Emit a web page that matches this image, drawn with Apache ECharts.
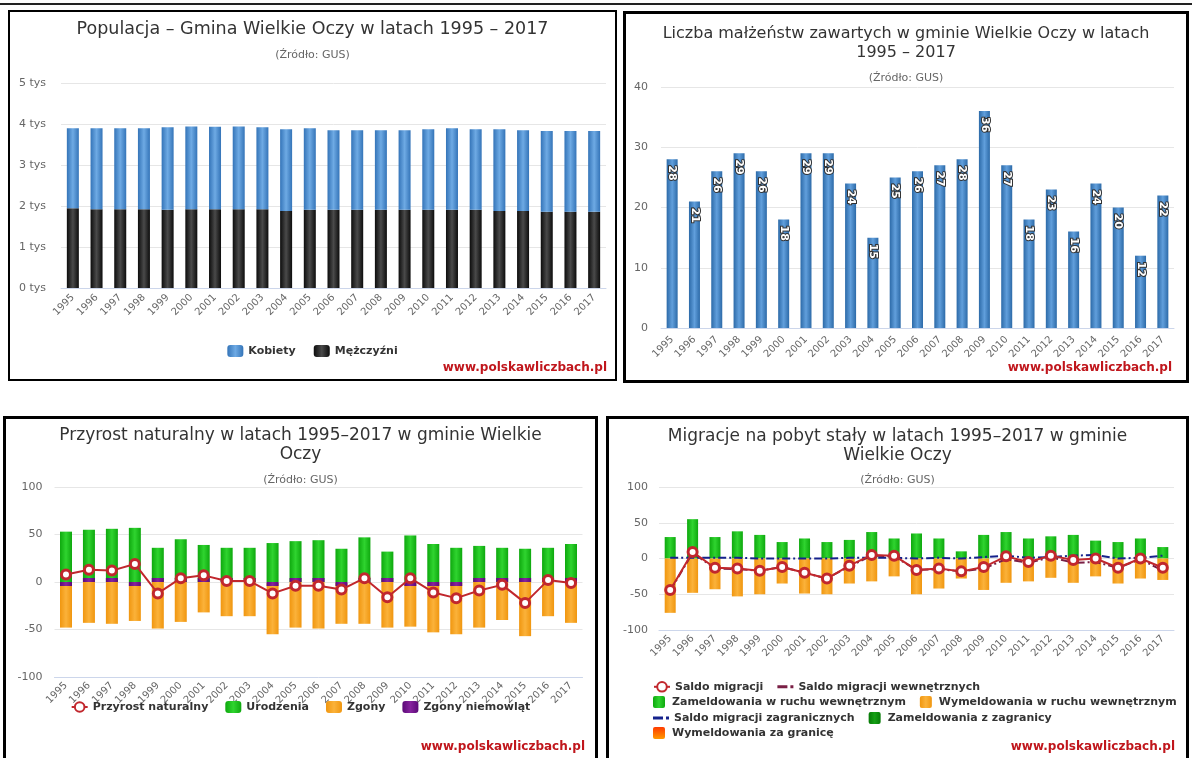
<!DOCTYPE html>
<html>
<head>
<meta charset="utf-8">
<script src="https://cdn.jsdelivr.net/npm/echarts@6/dist/echarts.min.js"></script>
<style>
body{margin:0;background:#fff;width:1192px;height:758px;overflow:hidden;position:relative;}
.chart{position:absolute;}
.frame{position:absolute;border:3px solid #000;box-sizing:border-box;pointer-events:none;}
</style>
</head>
<body>
<div style="position:absolute;left:0;top:3px;width:1192px;height:2px;background:#222"></div>
<div id="pop" class="chart" style="left:8px;top:10px;width:609px;height:371px"></div>
<div class="frame" style="left:8px;top:10px;width:609px;height:371px;border-width:2px"></div>
<div id="mar" class="chart" style="left:623px;top:11px;width:566px;height:372px"></div>
<div class="frame" style="left:623px;top:11px;width:566px;height:372px"></div>
<div id="nat" class="chart" style="left:3px;top:416px;width:595px;height:360px"></div>
<div class="frame" style="left:3px;top:416px;width:595px;height:360px"></div>
<div id="mig" class="chart" style="left:606px;top:416px;width:583px;height:360px"></div>
<div class="frame" style="left:606px;top:416px;width:583px;height:360px"></div>
<script>
var years = ['1995','1996','1997','1998','1999','2000','2001','2002','2003','2004','2005','2006',
  '2007','2008','2009','2010','2011','2012','2013','2014','2015','2016','2017'];

// populacja
var kobiety = [1948,1972,1972,1972,2013,2017,2012,2017,1997,1990,1988,1943,1943,1943,1943,1963,1988,1963,1990,1970,1972,1972,1972];
var mezczyzni = [1947,1923,1923,1923,1907,1923,1923,1923,1923,1880,1907,1907,1907,1907,1907,1907,1907,1907,1880,1880,1858,1858,1858];

// małżeństwa
var malzenstwa = [28,21,26,29,26,18,29,29,24,15,25,26,27,28,36,27,18,23,16,24,20,12,22];

// przyrost naturalny
var urodzenia = [53,55,56,57,36,45,39,36,36,41,43,44,35,47,32,49,40,36,38,36,35,36,40];
var zgony = [-47,-43,-44,-40,-49,-42,-32,-36,-36,-54,-48,-49,-43,-44,-48,-46,-52,-54,-48,-40,-57,-36,-43];
var zgonyNiemowlat = [-1,0,0,-1,0,0,0,0,0,-1,0,0,-1,0,0,-1,-1,-1,0,0,0,0,0];
var przyrost = [8,13,12,19,-12,4,7,1,1,-12,-4,-4,-8,4,-16,4,-11,-17,-9,-3,-22,2,-1];

// migracje
var zamWewn = [30,55,30,38,33,23,28,23,26,37,28,35,28,10,33,37,28,31,33,25,23,28,16];
var wymWewn = [-76,-48,-43,-53,-50,-35,-49,-50,-35,-32,-25,-50,-42,-28,-44,-34,-32,-27,-34,-25,-35,-28,-30];
var zamZagr = [0,0,0,0,0,0,0,0,0,0,0,0,0,0,0,0,0,0,0,0,0,0,0];
var wymZagr = [0,0,0,0,0,0,0,0,0,0,0,0,0,0,0,0,0,0,0,0,0,0,0];
var saldo = [-44,9,-13,-14,-17,-12,-20,-28,-10,5,4,-16,-14,-18,-12,3,-5,4,-2,0,-13,0,-13];
var saldoWewn = [-45,8,-14,-15,-17,-12,-20,-28,-11,4,3,-16,-15,-18,-14,-1,-6,2,-6,-5,-13,-1,-17];
var saldoZagr = [1,1,1,1,0,0,0,0,1,1,1,0,1,0,2,4,1,2,4,5,0,1,4];

var FONT = '"DejaVu Sans", Verdana, sans-serif';
var SQ = 'path://M2,0h8a2,2 0 0 1 2,2v8a2,2 0 0 1 -2,2h-8a2,2 0 0 1 -2,-2v-8a2,2 0 0 1 2,-2z';
var DASHDOT = 'path://M0,0h10v3h-10z M13,0h3v3h-3z';

function hGrad(edge, mid) {
  return new echarts.graphic.LinearGradient(0, 0, 1, 0, [
    {offset: 0, color: edge}, {offset: 0.5, color: mid}, {offset: 1, color: edge}]);
}

function titles(text, size, top, sub, subTop) {
  return [
    {text: text, left: 'center', top: top,
     textStyle: {fontFamily: FONT, fontSize: size, fontWeight: 'normal', color: '#333', lineHeight: 19}},
    {text: sub, left: 'center', top: subTop,
     textStyle: {fontFamily: FONT, fontSize: 11, fontWeight: 'normal', color: '#666'}}
  ];
}

function xAxis(onZero, margin) {
  return {
    type: 'category', data: years,
    axisLine: {onZero: onZero, lineStyle: {color: '#ccd6eb'}},
    axisTick: {length: 8, lineStyle: {color: '#ccd6eb'}},
    axisLabel: {rotate: 45, color: '#666', fontSize: 10, fontFamily: FONT, margin: margin}
  };
}

function yAxis(min, max, step, margin, fmt) {
  return {
    type: 'value', min: min, max: max, interval: step,
    axisLine: {show: false}, axisTick: {show: false},
    axisLabel: {color: '#666', fontSize: 11, fontFamily: FONT, margin: margin, formatter: fmt},
    splitLine: {lineStyle: {color: '#e6e6e6'}}
  };
}

function mark(right, top) {
  return [{type: 'text', right: right, top: top,
    style: {text: 'www.polskawliczbach.pl', fill: '#c0161c', font: 'bold 12px ' + FONT}}];
}

var legendText = {fontFamily: FONT, fontSize: 11, fontWeight: 'bold', color: '#333'};

var ringLine = {
  type: 'line', symbol: 'circle', symbolSize: 9, z: 5,
  lineStyle: {color: '#c1272d', width: 2},
  itemStyle: {color: '#fff', borderColor: '#c1272d', borderWidth: 3}
};

// --- populacja
echarts.init(document.getElementById('pop')).setOption({
  animation: false,
  title: titles('Populacja – Gmina Wielkie Oczy w latach 1995 – 2017', 17.5, 5, '(Źródło: GUS)', 35),
  grid: {left: 53, right: 11, top: 73, bottom: 93},
  xAxis: xAxis(true, 8),
  yAxis: yAxis(0, 5000, 1000, 15, function (v) { return (v / 1000) + ' tys'; }),
  legend: {data: ['Kobiety', 'Mężczyźni'], top: 330, left: 'center', itemWidth: 16, itemHeight: 12,
    itemGap: 18, icon: 'roundRect', textStyle: legendText},
  graphic: mark(10, 352),
  series: [
    {name: 'Mężczyźni', type: 'bar', stack: 'p', barWidth: 12, data: mezczyzni,
     itemStyle: {color: hGrad('#0c0c0c', '#4a4a4a')}},
    {name: 'Kobiety', type: 'bar', stack: 'p', barWidth: 12, data: kobiety,
     itemStyle: {color: hGrad('#3474b8', '#6eaae4')}}
  ]
});

// --- małżeństwa
echarts.init(document.getElementById('mar')).setOption({
  animation: false,
  title: titles('Liczba małżeństw zawartych w gminie Wielkie Oczy w latach\n1995 – 2017', 16, 8, '(Źródło: GUS)', 57),
  grid: {left: 38, right: 15, top: 76, bottom: 55},
  xAxis: xAxis(true, 10),
  yAxis: yAxis(0, 40, 10, 13),
  graphic: mark(17, 351),
  series: [
    {name: 'Małżeństwa', type: 'bar', barWidth: 11, data: malzenstwa,
     itemStyle: {color: hGrad('#2c6aa8', '#619fdc')},
     label: {show: true, position: 'insideTop', rotate: -90, align: 'left', verticalAlign: 'middle',
       distance: 6, color: '#fff', fontFamily: FONT, fontSize: 11, fontWeight: 'bold',
       textBorderColor: '#333', textBorderWidth: 2}}
  ]
});

// --- przyrost naturalny
echarts.init(document.getElementById('nat')).setOption({
  animation: false,
  title: titles('Przyrost naturalny w latach 1995–2017 w gminie Wielkie\nOczy', 17, 5, '(Źródło: GUS)', 54),
  grid: {left: 51.5, width: 528, top: 71, height: 190},
  xAxis: xAxis(false, 7),
  yAxis: yAxis(-100, 100, 50, 12),
  legend: {data: ['Przyrost naturalny', 'Urodzenia', 'Zgony', 'Zgony niemowląt'], top: 280, left: 'center',
    itemWidth: 16, itemHeight: 12, itemGap: 17, textStyle: legendText},
  graphic: mark(13, 325),
  series: [
    {name: 'Zgony niemowląt', type: 'bar', stack: 'n', barWidth: 12, barMinHeight: 4, z: 3, data: zgonyNiemowlat,
     itemStyle: {color: hGrad('#5c0a78', '#86239e')}},
    {name: 'Urodzenia', type: 'bar', stack: 'n', barWidth: 12, data: urodzenia,
     itemStyle: {color: hGrad('#0ea80e', '#2fd42f')}},
    {name: 'Zgony', type: 'bar', stack: 'n', barWidth: 12, data: zgony,
     itemStyle: {color: hGrad('#f0960f', '#fbb23a')}},
    Object.assign({name: 'Przyrost naturalny', data: przyrost}, ringLine)
  ]
});

// --- migracje
var migLegend = function (names, top) {
  return {data: names.map(function (n) {
      if (n === 'Saldo migracji') return n;
      return {name: n, icon: n.indexOf('Saldo') === 0 ? DASHDOT : SQ};
    }), top: top, left: 42, itemWidth: 16, itemHeight: 12, itemGap: 14, textStyle: legendText};
};

echarts.init(document.getElementById('mig')).setOption({
  animation: false,
  title: titles('Migracje na pobyt stały w latach 1995–2017 w gminie\nWielkie Oczy', 17, 6, '(Źródło: GUS)', 54),
  grid: {left: 53, width: 515, top: 71, height: 143},
  xAxis: xAxis(false, 7),
  yAxis: yAxis(-100, 100, 50, 11),
  legend: [
    migLegend(['Saldo migracji', 'Saldo migracji wewnętrznych'], 260),
    migLegend(['Zameldowania w ruchu wewnętrznym', 'Wymeldowania w ruchu wewnętrznym'], 275),
    migLegend(['Saldo migracji zagranicznych', 'Zameldowania z zagranicy'], 291),
    migLegend(['Wymeldowania za granicę'], 306)
  ],
  graphic: mark(14, 325),
  series: [
    {name: 'Zameldowania w ruchu wewnętrznym', type: 'bar', stack: 'm', barWidth: 11, data: zamWewn,
     itemStyle: {color: hGrad('#0ea80e', '#2fd42f')}},
    {name: 'Zameldowania z zagranicy', type: 'bar', stack: 'm', barWidth: 11, data: zamZagr,
     itemStyle: {color: hGrad('#077a07', '#15a015')}},
    {name: 'Wymeldowania w ruchu wewnętrznym', type: 'bar', stack: 'm', barWidth: 11, data: wymWewn,
     itemStyle: {color: hGrad('#f0960f', '#fbb23a')}},
    {name: 'Wymeldowania za granicę', type: 'bar', stack: 'm', barWidth: 11, data: wymZagr,
     itemStyle: {color: new echarts.graphic.LinearGradient(0, 0, 0, 1, [
       {offset: 0, color: '#ff3a00'}, {offset: 1, color: '#ff9a00'}])}},
    {name: 'Saldo migracji wewnętrznych', type: 'line', symbol: 'none', z: 4, data: saldoWewn,
     lineStyle: {color: '#7a1f45', width: 2, type: [8, 3, 2, 3]}, itemStyle: {color: '#7a1f45'}},
    {name: 'Saldo migracji zagranicznych', type: 'line', symbol: 'none', z: 4, data: saldoZagr,
     lineStyle: {color: '#15228c', width: 2, type: [8, 3, 2, 3]}, itemStyle: {color: '#15228c'}},
    Object.assign({name: 'Saldo migracji', data: saldo}, ringLine)
  ]
});
</script>
</body>
</html>
